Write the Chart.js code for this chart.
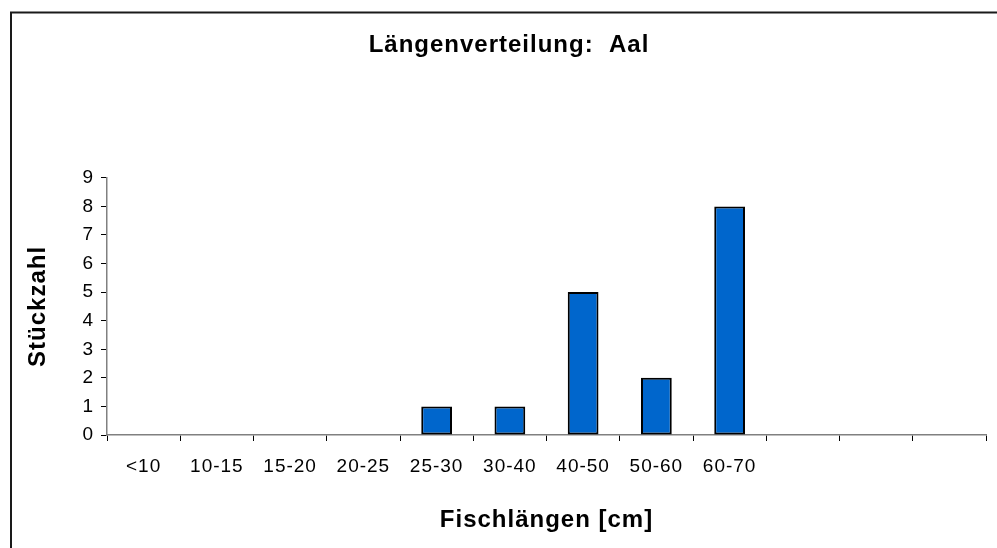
<!DOCTYPE html>
<html>
<head>
<meta charset="utf-8">
<script src="https://cdn.jsdelivr.net/npm/chart.js@4/dist/chart.umd.min.js"></script>
<style>
  html, body { margin: 0; padding: 0; background: #fff; }
  #c { display: block; }
</style>
</head>
<body>
<canvas id="c" width="997" height="548"></canvas>
<script>
// Längenklassen und Stückzahlen (Aal)
const categories = ['<10', '10-15', '15-20', '20-25', '25-30', '30-40', '40-50', '50-60', '60-70', '', '', ''];
const counts = [0, 0, 0, 0, 1, 1, 5, 2, 8, null, null, null];
const yTicks = [0, 1, 2, 3, 4, 5, 6, 7, 8, 9];

const chartTitle = 'Längenverteilung:  Aal';
const xTitle = 'Fischlängen [cm]';
const yTitle = 'Stückzahl';

const FONT = '"Liberation Sans", Arial, sans-serif';

// Rahmen um das gesamte Diagramm, leicht gesperrte Schrift
const frame = {
  id: 'frame',
  beforeDraw(chart) {
    const ctx = chart.ctx;
    ctx.fillStyle = '#ffffff';
    ctx.fillRect(0, 0, chart.width, chart.height);
    ctx.strokeStyle = '#1a1a1a';
    ctx.lineWidth = 2;
    ctx.strokeRect(11, 12.5, chart.width + 20, chart.height + 20);
    ctx.letterSpacing = '1px';
  }
};

new Chart(document.getElementById('c'), {
  type: 'bar',
  data: {
    labels: categories,
    datasets: [{
      data: counts,
      backgroundColor: '#0066CC',
      borderColor: '#000000',
      borderWidth: (ctx) => (ctx.raw ? 2 : 0),
      borderSkipped: false,
      categoryPercentage: 1,
      barPercentage: 0.42
    }]
  },
  options: {
    responsive: false,
    animation: false,
    devicePixelRatio: 1,
    layout: { padding: { left: 32, right: 11, top: 0, bottom: 0 } },
    plugins: {
      legend: { display: false },
      tooltip: { enabled: false },
      title: {
        display: true,
        text: chartTitle,
        color: '#000',
        font: { family: FONT, size: 24, weight: 'bold' },
        padding: { top: 31, bottom: 118 }
      }
    },
    scales: {
      x: {
        grid: {
          display: true,
          drawOnChartArea: false,
          offset: true,
          tickLength: 6,
          color: '#000',
          lineWidth: 1
        },
        border: { display: true, color: '#808080', width: 1.5 },
        ticks: {
          color: '#000',
          font: { family: FONT, size: 19 },
          padding: 14,
          maxRotation: 0,
          autoSkip: false
        },
        title: {
          display: true,
          text: xTitle,
          color: '#000',
          font: { family: FONT, size: 24, weight: 'bold' },
          padding: { top: 0, bottom: 13 }
        },
        afterFit(scale) { scale.height = 113; }
      },
      y: {
        min: 0,
        max: 9,
        afterBuildTicks(scale) { scale.ticks = yTicks.map(v => ({ value: v })); },
        grid: {
          display: true,
          drawOnChartArea: false,
          tickLength: 6,
          color: '#000',
          lineWidth: 1
        },
        border: { display: true, color: '#808080', width: 1.5 },
        ticks: {
          color: '#000',
          font: { family: FONT, size: 19 },
          padding: 7
        },
        title: {
          display: true,
          text: yTitle,
          color: '#000',
          font: { family: FONT, size: 24, weight: 'bold' },
          padding: { top: -8, bottom: 0 }
        },
        afterFit(scale) { scale.width = 75; }
      }
    }
  },
  plugins: [frame]
});
</script>
</body>
</html>
